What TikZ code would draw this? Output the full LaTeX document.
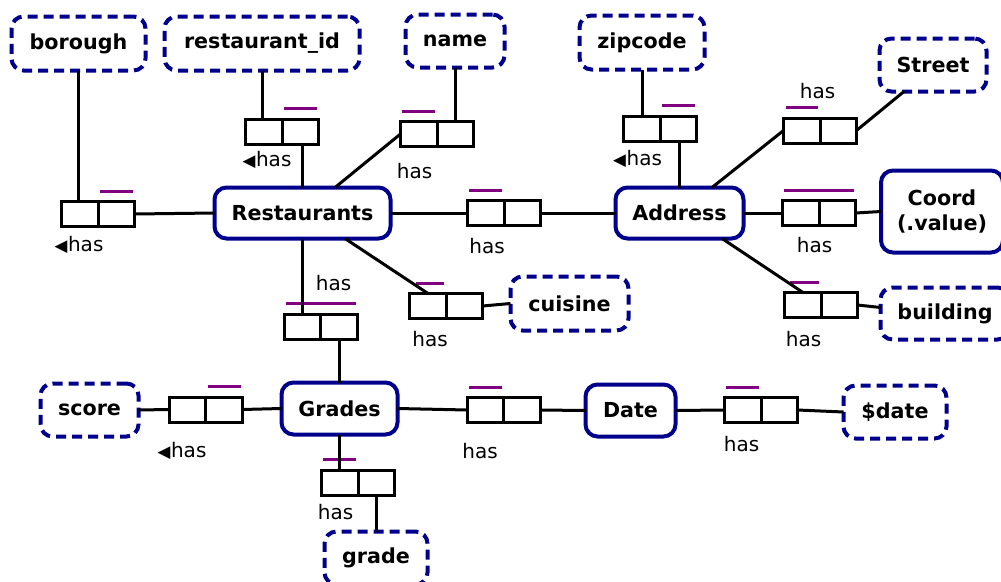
\documentclass[tikz,border=0pt]{standalone}
\usepackage{fontspec}
\setmainfont{DejaVu Sans}
\usetikzlibrary{calc}
\definecolor{entblue}{RGB}{0,0,140}
\definecolor{barpurple}{RGB}{128,0,128}
% small direction marker in front of a role name
\newcommand\lefttri{{\fontsize{12.5}{13}\selectfont ◀}\kern0.5pt}
% purple cardinality bar above a relationship box: box, x offset, length
\newcommand\hasbar[3]{\draw[hasbar] ([shift={(#2,-10.5)}]#1.north) -- ++(#3,0);}

\begin{document}
\begin{tikzpicture}[x=0.75pt,y=-0.75pt,
  every node/.style={inner sep=0pt, outer sep=0pt},
  ent/.style 2 args={draw=entblue, line width=3pt, rounded corners=9pt,
    minimum width=#1*0.75pt, minimum height=#2*0.75pt,
    font=\fontsize{15.5}{19}\selectfont\bfseries, align=center},
  attr/.style 2 args={ent={#1}{#2}, dash pattern=on 7.5pt off 4.5pt},
  rel/.style={draw=black, line width=2.25pt, minimum width=54.75pt, minimum height=18.75pt,
    path picture={\draw[line width=2.25pt] (path picture bounding box.north) -- (path picture bounding box.south);}},
  link/.style={line width=2.25pt},
  hasbar/.style={draw=barpurple, line width=2.25pt},
  lbl/.style={font=\fontsize{15}{17}\selectfont},
]
\useasboundingbox (0,0) rectangle (1001,582);
\clip (0,0) rectangle (1001,582);

% entities
\node[ent={176}{51}] (rest) at (302.5,213) {Restaurants};
\node[ent={128}{51}] (addr) at (679.5,213) {Address};
\node[ent={122}{82}] (coord) at (942,211.5) {Coord\\(.value)};
\node[ent={116}{52}] (grades) at (339.5,408.5) {Grades};
\node[ent={90}{52}] (date) at (630.5,410.5) {Date};

% attributes
\node[attr={134}{54}] (bor) at (78.5,43.5) {borough};
\node[attr={195}{54}] (rid) at (262,43.5) {restaurant\_id};
\node[attr={99}{53}] (name) at (455,41) {name};
\node[attr={125}{54}] (zip) at (642,42.5) {zipcode};
\node[attr={107}{53}] (street) at (933,65) {Street};
\node[attr={118}{54}] (cui) at (569.5,303.5) {cuisine};
\node[attr={129}{52}] (bld) at (945,313.5) {building};
\node[attr={98}{53}] (score) at (89.5,410) {score};
\node[attr={103}{53}] (ddate) at (895,412) {\$date};
\node[attr={103}{53}] (grade) at (376,558) {grade};

% relationship boxes
\node[rel] (bbor) at (98,214) {};
\node[rel] (brid) at (282,131.5) {};
\node[rel] (bname) at (437,134) {};
\node[rel] (bra) at (504,213) {};
\node[rel] (bcui) at (446,306) {};
\node[rel] (brg) at (320.5,326.5) {};
\node[rel] (bzip) at (660,128.5) {};
\node[rel] (bstr) at (820,130.5) {};
\node[rel] (bcoord) at (819,213) {};
\node[rel] (bbld) at (821,305) {};
\node[rel] (bscore) at (205.5,409.5) {};
\node[rel] (bgd) at (503.5,410) {};
\node[rel] (bdd) at (761,410) {};
\node[rel] (bgrade) at (358,482.5) {};

% cardinality bars
\hasbar{bbor}{2}{33}
\hasbar{brid}{2}{33}
\hasbar{bname}{-35}{33}
\hasbar{bra}{-35}{33}
\hasbar{bcui}{-30}{28}
\hasbar{brg}{-34.5}{70}
\hasbar{bzip}{2}{33}
\hasbar{bstr}{-34}{32}
\hasbar{bcoord}{-35}{70}
\hasbar{bbld}{-31}{29}
\hasbar{bscore}{2.5}{33}
\hasbar{bgd}{-34.5}{33}
\hasbar{bdd}{-35}{33}
\hasbar{bgrade}{-35}{33}

% connectors
\draw[link] (bor.south) -- (bor.south |- bbor.north);
\draw[link] (bbor.east) -- (rest.west);
\draw[link] (rid.south) -- (rid.south |- brid.north);
\draw[link] (rest.north) -- (rest.north |- brid.south);
\draw[link] (name.south) -- (name.south |- bname.north);
\draw[link] (bname.west) -- ([shift={(32.5,0)}]rest.north);
\draw[link] (rest.east) -- (bra.west);
\draw[link] (bra.east) -- (addr.west);
\draw[link] ([shift={(42.5,0)}]rest.south) -- ([shift={(-18,0)}]bcui.north);
\draw[link] (bcui.east) -- (cui.west);
\draw[link] (rest.south) -- (rest.south |- brg.north);
\draw[link] (grades.north) -- (grades.north |- brg.south);
\draw[link] (zip.south) -- (zip.south |- bzip.north);
\draw[link] (addr.north) -- (addr.north |- bzip.south);
\draw[link] ([shift={(32.5,0)}]addr.north) -- (bstr.west);
\draw[link] (bstr.east) -- ([shift={(-29,0)}]street.south);
\draw[link] (addr.east) -- (bcoord.west);
\draw[link] (bcoord.east) -- (coord.west);
\draw[link] ([shift={(42.5,0)}]addr.south) -- ([shift={(-18,0)}]bbld.north);
\draw[link] (bbld.east) -- ([shift={(0,-6)}]bld.west);
\draw[link] (score.east) -- (bscore.west);
\draw[link] (bscore.east) -- (grades.west);
\draw[link] (grades.east) -- (bgd.west);
\draw[link] (bgd.east) -- (date.west);
\draw[link] (date.east) -- (bdd.west);
\draw[link] (bdd.east) -- (ddate.west);
\draw[link] (grades.south) -- (grades.south |- bgrade.north);
\draw[link] (grade.north) -- (grade.north |- bgrade.south);

% role labels
\node[lbl] (l1) at (79,245) {\lefttri has};
\node[lbl] (l2) at (267,160) {\lefttri has};
\node[lbl] (l3) at (414.5,171) {has};
\node[lbl] (l4) at (487,246) {has};
\node[lbl] (l5) at (430,339) {has};
\node[lbl] (l6) at (333.5,283) {has};
\node[lbl] (l7) at (637.5,159) {\lefttri has};
\node[lbl] (l8) at (817.5,91) {has};
\node[lbl] (l9) at (814.5,245) {has};
\node[lbl] (l10) at (803.5,339) {has};
\node[lbl] (l11) at (182,451) {\lefttri has};
\node[lbl] (l12) at (480,451) {has};
\node[lbl] (l13) at (741.5,444) {has};
\node[lbl] (l14) at (335.5,512) {has};
\end{tikzpicture}
\end{document}
